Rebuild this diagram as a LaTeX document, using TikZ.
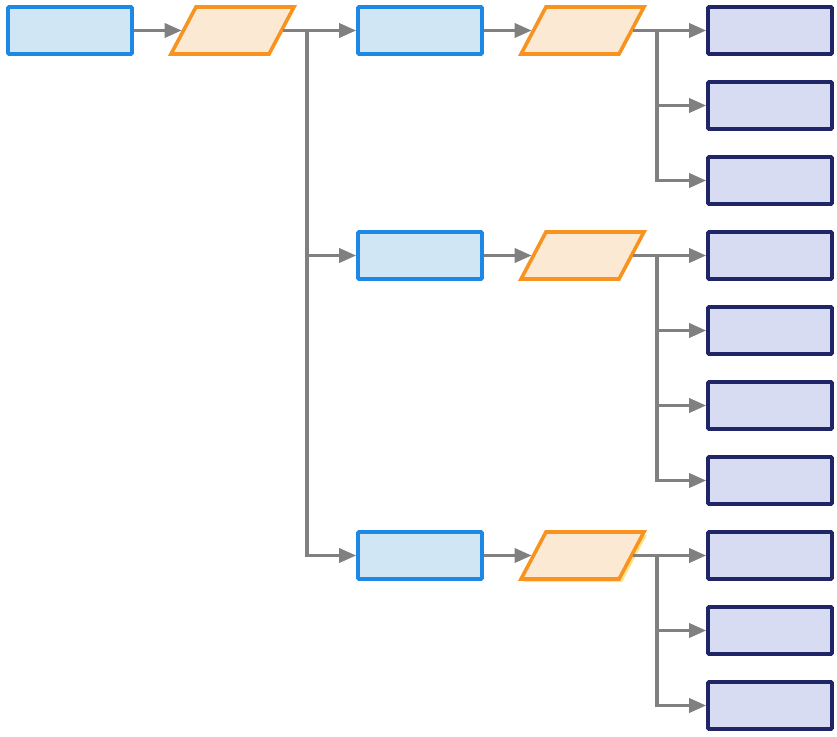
\documentclass[tikz,border=0pt]{standalone}
\usepackage{xcolor}
\usepackage{tikz}
\usetikzlibrary{arrows.meta,positioning,shapes.geometric,shadows}
\definecolor{procfill}{HTML}{D0E6F5}
\definecolor{procline}{HTML}{1E88E5}
\definecolor{datafill}{HTML}{FCE9D4}
\definecolor{dataline}{HTML}{F7931E}
\definecolor{leaffill}{HTML}{D8DCF2}
\definecolor{leafline}{HTML}{1F2566}
\definecolor{linkgray}{HTML}{808080}
\definecolor{shadowyellow}{HTML}{FFE38A}

\begin{document}
\begin{tikzpicture}[x=1pt,y=-1pt,>={Triangle[length=17pt,width=14pt]},
  procbox/.style={draw=procline,fill=procfill,line width=3.6pt,rounded corners=1pt,
    minimum width=124pt,minimum height=47pt,inner sep=1pt},
  databox/.style={draw=dataline,fill=datafill,line width=3.6pt,xslant=0.53,
    minimum width=98pt,minimum height=47pt,inner sep=1pt},
  leafbox/.style={draw=leafline,fill=leaffill,line width=3.6pt,rounded corners=1pt,
    minimum width=124pt,minimum height=47pt,inner sep=1pt},
  link/.style={draw=linkgray,line width=3.4pt}]
  \useasboundingbox (0,0) rectangle (837,736);
  % first chain
  \node[procbox] (root) at (70,30.5) {};
  \node[databox] (d0) at (232.5,30.5) {};
  \draw[link,->] (root) -- (d0);
  % second level
  \node[procbox] (pa) at (420,30.5) {};
  \node[procbox] (pb) at (420,255.5) {};
  \node[procbox] (pc) at (420,555.5) {};
  \node[databox] (da) at (582.5,30.5) {};
  \node[databox] (db) at (582.5,255.5) {};
  \node[databox,drop shadow={shadow xshift=3pt,shadow yshift=-3pt,
    fill=shadowyellow,opacity=1}] (dc) at (582.5,555.5) {};
  \coordinate (j0) at (307,30.5);
  \draw[link,->] (d0.east) -- (pa.west);
  \draw[link,->] (j0) |- (pb.west);
  \draw[link,->] (j0) |- (pc.west);
  \foreach \p/\d in {pa/da,pb/db,pc/dc}
    \draw[link,->] (\p) -- (\d);
  % leaves
  \foreach \n/\y in {1/30.5,2/105.5,3/180.5,4/255.5,5/330.5,6/405.5,7/480.5,8/555.5,9/630.5,10/705.5}
    \node[leafbox] (l\n) at (770,\y) {};
  \coordinate (ja) at (657,30.5);
  \coordinate (jb) at (657,255.5);
  \coordinate (jc) at (657,555.5);
  \draw[link,->] (da.east) -- (l1.west);
  \draw[link,->] (ja) |- (l2.west);
  \draw[link,->] (ja) |- (l3.west);
  \draw[link,->] (db.east) -- (l4.west);
  \foreach \n in {5,6,7}
    \draw[link,->] (jb) |- (l\n.west);
  \draw[link,->] (dc.east) -- (l8.west);
  \draw[link,->] (jc) |- (l9.west);
  \draw[link,->] (jc) |- (l10.west);
\end{tikzpicture}
\end{document}
